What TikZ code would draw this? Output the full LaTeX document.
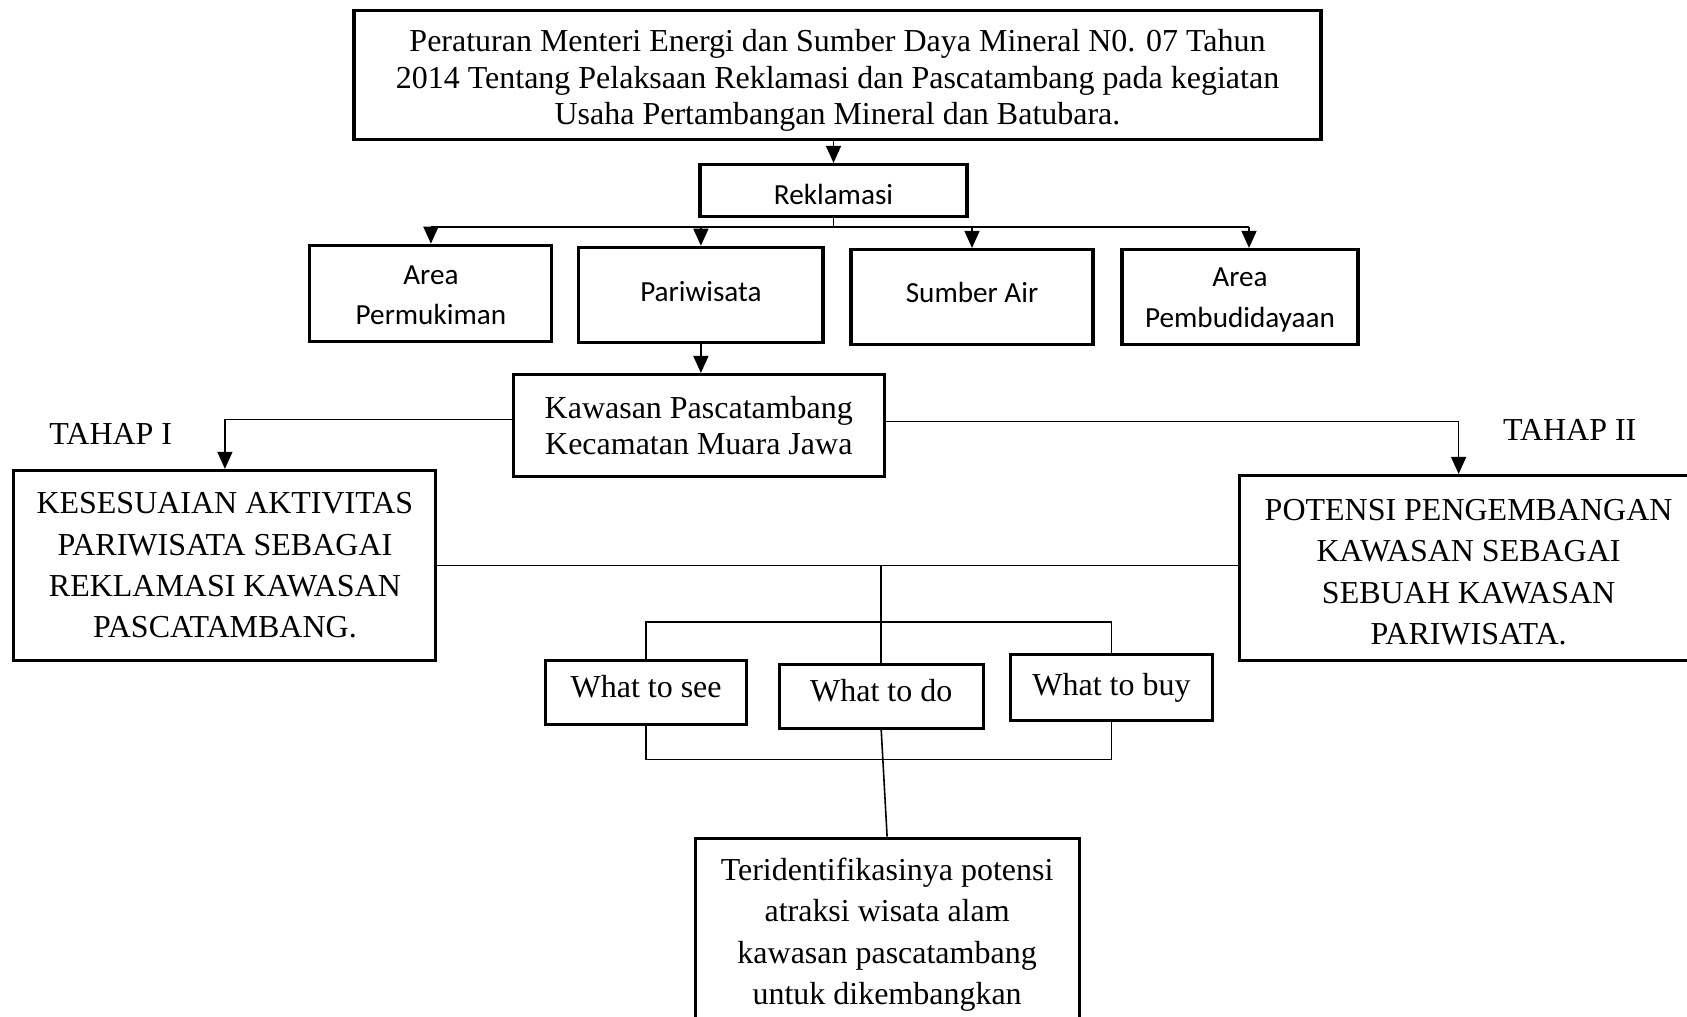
\documentclass[tikz,border=0pt]{standalone}
\usepackage{fontspec}
\setmainfont{Liberation Serif}
\newfontfamily\calibri{Carlito}
\usetikzlibrary{arrows.meta}

\begin{document}
\begin{tikzpicture}[
        kotak/.style={draw, line width=0.9pt, align=center, inner sep=0pt},
        serif/.style={font=\fontsize{9.1}{10.4}\selectfont},
        besar/.style={font=\fontsize{9.1}{11.8}\selectfont},
        sans/.style={font=\calibri\fontsize{8.3}{11.6}\selectfont},
        panah/.style={-{Triangle[length=1.7mm,width=1.5mm]}, line width=0.45pt},
        garis/.style={line width=0.45pt}
    ]
        \useasboundingbox (0,0) rectangle (16.87,-10.17);
        \node[kotak, serif, minimum width=9.67cm, minimum height=1.29cm] (Permen) at (8.375,-0.75) {\rule{0pt}{9.6pt}Peraturan Menteri Energi dan Sumber Daya Mineral N0. 07 Tahun\\2014 Tentang Pelaksaan Reklamasi dan Pascatambang pada kegiatan\\Usaha Pertambangan Mineral dan Batubara.};
        \node[kotak, sans, minimum width=2.67cm, minimum height=0.52cm] (Rek) at (8.335,-1.905) {\rule{0pt}{8.1pt}Reklamasi};
        \node[kotak, sans, minimum width=2.42cm, minimum height=0.96cm] (AP) at (4.309,-2.932) {\rule{0pt}{6.5pt}Area\\Permukiman};
        \node[kotak, sans, minimum width=2.44cm, minimum height=0.95cm, text depth=0.07cm] (Par) at (7.009,-2.948) {Pariwisata};
        \node[kotak, sans, minimum width=2.42cm, minimum height=0.95cm, text depth=0.09cm] (SA) at (9.72,-2.97) {Sumber Air};
        \node[kotak, sans, minimum width=2.36cm, minimum height=0.95cm] (APb) at (12.4,-2.97) {\rule{0pt}{7.1pt}Area\\Pembudidayaan};
        \node[kotak, serif, minimum width=3.71cm, minimum height=1.02cm] (Kaw) at (6.988,-4.255) {Kawasan Pascatambang\\Kecamatan Muara Jawa};
        \node[besar] (T1) at (1.108,-4.336) {TAHAP I};
        \node[besar] (T2) at (15.697,-4.304) {TAHAP II};
        \node[kotak, besar, minimum width=4.22cm, minimum height=1.9cm] (K1) at (2.249,-5.654) {KESESUAIAN AKTIVITAS\\PARIWISATA SEBAGAI\\REKLAMASI KAWASAN\\PASCATAMBANG.};
        \node[kotak, besar, minimum width=4.58cm, minimum height=1.85cm] (K2) at (14.686,-5.68) {\rule{0pt}{8.5pt}POTENSI PENGEMBANGAN\\KAWASAN SEBAGAI\\SEBUAH KAWASAN\\PARIWISATA.};
        \node[kotak, besar, minimum width=2.01cm, minimum height=0.635cm, text depth=0.13cm] (See) at (6.461,-6.924) {What to see};
        \node[kotak, besar, minimum width=2.04cm, minimum height=0.635cm, text depth=0.13cm] (Do) at (8.812,-6.966) {What to do};
        \node[kotak, besar, minimum width=2.02cm, minimum height=0.667cm] (Buy) at (11.114,-6.875) {What to buy};
        \node[kotak, besar, minimum width=3.84cm, minimum height=1.87cm] (Hasil) at (8.871,-9.318) {\rule{0pt}{8pt}Teridentifikasinya potensi\\atraksi wisata alam\\kawasan pascatambang\\untuk dikembangkan};
        \coordinate (bus) at (0,-2.27);
        \coordinate (atas) at (0,-6.219);
        \coordinate (bawah) at (0,-7.596);
        \draw[panah] (Rek.north |- Permen.south) -- (Rek.north);
        \draw[garis] (Rek.south) -- (Rek.south |- bus);
        \draw[garis] (AP.north |- bus) -- ([xshift=0.9mm]APb.north |- bus);
        \draw[panah] (AP.north |- bus) -- (AP.north);
        \draw[panah] (Par.north |- bus) -- (Par.north);
        \draw[panah] (SA.north |- bus) -- (SA.north);
        \draw[panah] ([xshift=0.9mm]APb.north |- bus) -- ([xshift=0.9mm]APb.north);
        \draw[panah] (Par.south) -- (Par.south |- Kaw.north);
        \draw[panah] ([yshift=0.6mm]Kaw.west) -| (K1.north);
        \draw[panah] ([yshift=0.4mm]Kaw.east) -| ([xshift=-1mm]K2.north);
        \draw[garis] (K1.east) -- (K1.east -| K2.west);
        \draw[garis] (Do.north |- K1.east) -- (Do.north);
        \draw[garis] (See.north) -- (See.north |- atas) -- (Buy.north |- atas) -- (Buy.north);
        \draw[garis] (See.south) -- (See.south |- bawah) -- (Buy.south |- bawah) -- (Buy.south);
        \draw[garis] (Do.south) -- (Hasil.north);
    \end{tikzpicture}
\end{document}
